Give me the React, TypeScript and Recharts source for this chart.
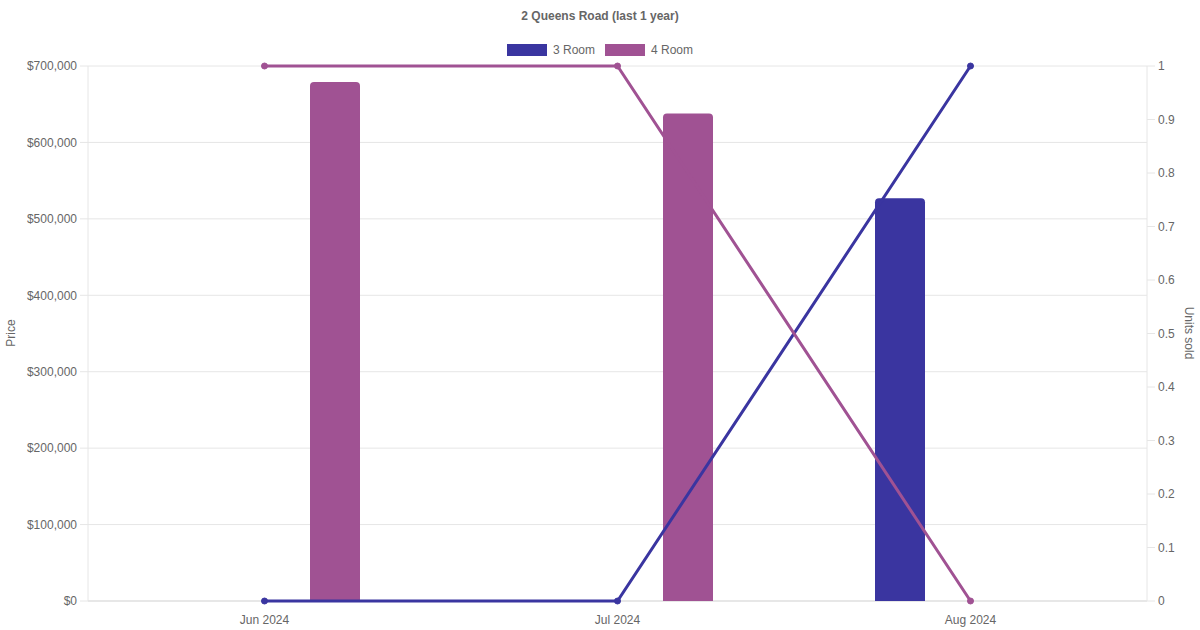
import { ComposedChart, Bar, Line, XAxis, YAxis, CartesianGrid } from "recharts";

const months = ["Jun 2024", "Jul 2024", "Aug 2024"];
const price3Room = [null, null, 527000];
const price4Room = [679000, 638000, null];
const units3Room = [0, 0, 1];
const units4Room = [1, 1, 0];

const priceTicks = [0, 100000, 200000, 300000, 400000, 500000, 600000, 700000];
const unitTicks = [0, 0.1, 0.2, 0.3, 0.4, 0.5, 0.6, 0.7, 0.8, 0.9, 1];

const COLOR_3 = "#3a35a0";
const COLOR_4 = "#a05293";
const TEXT = "#666";
const FONT = "'Liberation Sans', Arial, Helvetica, sans-serif";

const chartData = months.map((m, i) => ({
  month: m,
  price3: price3Room[i],
  price4: price4Room[i],
  units3: units3Room[i],
  units4: units4Room[i],
}));

const legendItems = [
  { label: "3 Room", color: COLOR_3 },
  { label: "4 Room", color: COLOR_4 },
];

// grid line renderer: bottom line a bit darker, like the x axis border
function GridLine(props: any) {
  const { x1, y1, x2, y2 } = props;
  const isBottom = y1 >= 600;
  return <line x1={x1} y1={y1} x2={x2} y2={y2} stroke={isBottom ? "#cfcfcf" : "#e6e6e6"} strokeWidth={1} />;
}

function AxisTitle({ x, text, angle }: { x: number; text: string; angle: number }) {
  const y = 333;
  return (
    <text
      x={x}
      y={y}
      transform={`rotate(${angle}, ${x}, ${y})`}
      textAnchor="middle"
      dominantBaseline="central"
      fill={TEXT}
      fontSize={12}
    >
      {text}
    </text>
  );
}

export default function App() {
  return (
    <div style={{ position: "fixed", left: 0, top: 0, width: 1200, height: 630, background: "#fff", fontFamily: FONT }}>
      <div style={{ position: "absolute", top: 9, left: 0, width: 1200, textAlign: "center", fontSize: 12, fontWeight: "bold", color: TEXT }}>
        2 Queens Road (last 1 year)
      </div>
      <div style={{ position: "absolute", top: 43, left: 0, width: 1200, display: "flex", justifyContent: "center", fontSize: 12, color: TEXT }}>
        {legendItems.map((it, i) => (
          <div key={it.label} style={{ display: "flex", alignItems: "center", marginLeft: i ? 10 : 0 }}>
            <span style={{ display: "inline-block", width: 40, height: 12, background: it.color, marginRight: 6 }} />
            <span>{it.label}</span>
          </div>
        ))}
      </div>
      <ComposedChart
        width={1200}
        height={630}
        data={chartData}
        margin={{ top: 66, right: 0, bottom: 0, left: 0 }}
        barGap={91}
        style={{ fontFamily: FONT }}
      >
        <CartesianGrid vertical={false} horizontal={(p: any) => <GridLine {...p} />} yAxisId="price" />
        <XAxis
          dataKey="month"
          height={29}
          axisLine={false}
          tickLine={false}
          tickSize={6}
          tickMargin={8}
          tick={{ fill: TEXT, fontSize: 12 }}
        />
        <YAxis
          yAxisId="price"
          width={88}
          domain={[0, 700000]}
          ticks={priceTicks}
          tickFormatter={(v: number) => `$${v.toLocaleString("en-US")}`}
          tickSize={8}
          tickMargin={3}
          stroke="#e6e6e6"
          tick={{ fill: TEXT, fontSize: 12 }}
          label={{ content: () => <AxisTitle x={11} text="Price" angle={-90} /> }}
        />
        <YAxis
          yAxisId="units"
          orientation="right"
          width={53}
          domain={[0, 1]}
          ticks={unitTicks}
          tickSize={8}
          tickMargin={3}
          stroke="#e6e6e6"
          tick={{ fill: TEXT, fontSize: 12 }}
          label={{ content: () => <AxisTitle x={1189} text="Units sold" angle={90} /> }}
        />
        <Bar yAxisId="price" dataKey="price3" fill={COLOR_3} barSize={50} radius={[4, 4, 0, 0]} isAnimationActive={false} />
        <Bar yAxisId="price" dataKey="price4" fill={COLOR_4} barSize={50} radius={[4, 4, 0, 0]} isAnimationActive={false} />
        <Line
          yAxisId="units"
          dataKey="units3"
          type="linear"
          stroke={COLOR_3}
          strokeWidth={3}
          dot={{ r: 3, fill: COLOR_3, stroke: COLOR_3, strokeWidth: 1 }}
          isAnimationActive={false}
        />
        <Line
          yAxisId="units"
          dataKey="units4"
          type="linear"
          stroke={COLOR_4}
          strokeWidth={3}
          dot={{ r: 3, fill: COLOR_4, stroke: COLOR_4, strokeWidth: 1 }}
          isAnimationActive={false}
        />
      </ComposedChart>
    </div>
  );
}
